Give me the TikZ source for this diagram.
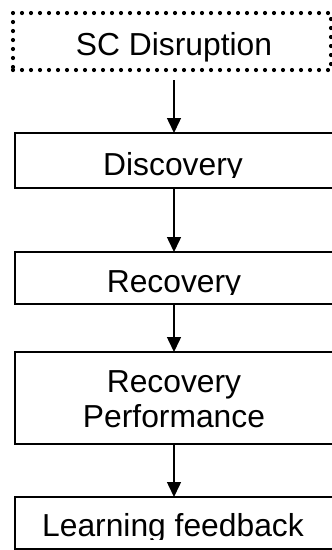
\documentclass[tikz,border=0pt]{standalone}
\usepackage{fontspec}
\setmainfont{Liberation Sans}
\usetikzlibrary{arrows.meta}
\begin{document}
\begin{tikzpicture}[x=1pt,y=-1pt,
  stagebox/.style={draw=black, line width=2pt, minimum width=330pt, inner sep=0pt, outer sep=0pt},
  eventbox/.style={draw=black, line width=4.2pt, line cap=round, dash pattern=on 0pt off 9pt,
                   minimum width=318pt, minimum height=57pt, inner sep=0pt, outer sep=0pt},
  lbl/.style={font=\fontsize{31.8}{36}\selectfont, inner sep=0pt, anchor=base, text=black},
  flow/.style={line width=1.5pt, -{Triangle[length=15pt,width=14pt]}}]
  \useasboundingbox (0,0) rectangle (332,550);
  \clip (0,0) rectangle (332,550);

  % vertical line that the connectors follow
  \coordinate (axis) at (174,0);

  % boxes of the chain
  \node[eventbox] (sc) at (172,41.5) {};
  \node[stagebox, minimum height=55pt] (disc) at (179.5,160.5) {};
  \node[stagebox, minimum height=52pt] (rec) at (179.5,278) {};
  \node[stagebox, minimum height=92pt] (perf) at (179.5,398) {};
  \node[stagebox, minimum height=52pt] (learn) at (179.5,523) {};

  % labels, cut off at the inner margin of their box
  \begin{scope}
    \clip (13,13) rectangle (331,70);
    \node[lbl] (tsc) at (174,55) {SC Disruption};
  \end{scope}
  \begin{scope}
    \clip (15,134) rectangle (333,177.5);
    \node[lbl] (tdisc) at (173,175) {Discovery};
  \end{scope}
  \begin{scope}
    \clip (15,253) rectangle (333,294.5);
    \node[lbl] (trec) at (174,292) {Recovery};
  \end{scope}
  \node[lbl] (tperf1) at (174,392) {Recovery};
  \node[lbl] (tperf2) at (174,427) {Performance};
  \begin{scope}
    \clip (15,498) rectangle (333,539);
    \node[lbl] (tlearn) at (173,536) {Learning feedback};
  \end{scope}

  % connectors
  \draw[flow] ([yshift=-10pt]sc.south -| axis) -- (disc.north -| axis);
  \draw[flow] (disc.south -| axis) -- (rec.north -| axis);
  \draw[flow] (rec.south -| axis) -- (perf.north -| axis);
  \draw[flow] (perf.south -| axis) -- (learn.north -| axis);
\end{tikzpicture}
\end{document}
